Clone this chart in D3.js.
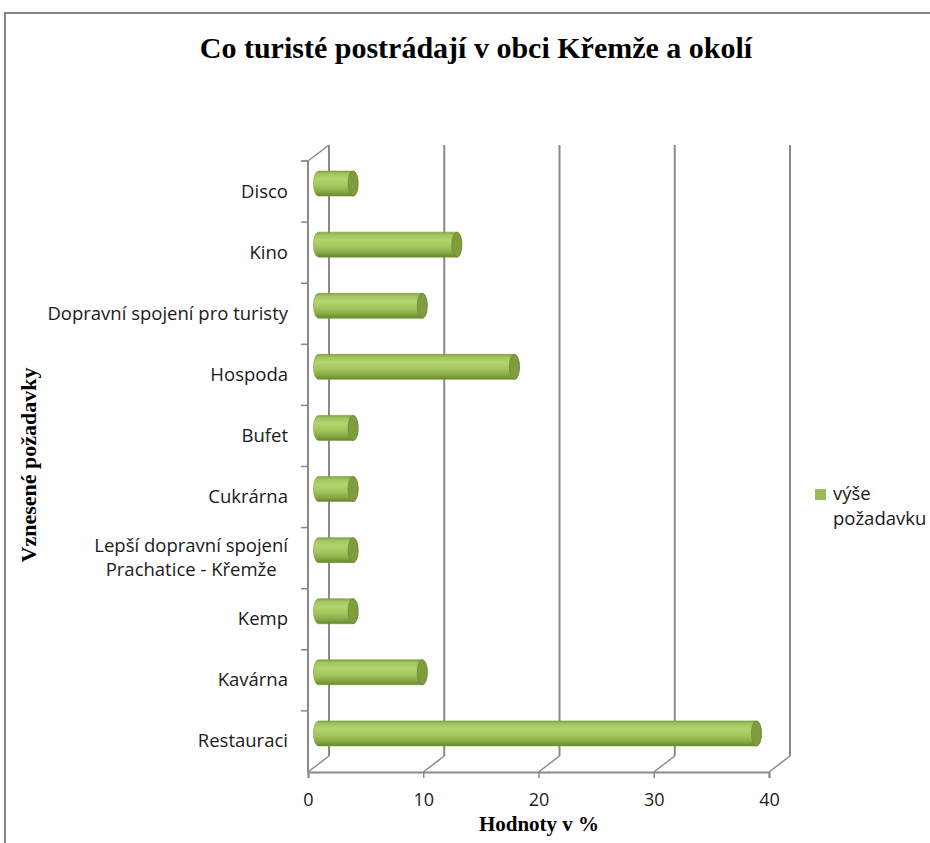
<!DOCTYPE html>
<html>
<head>
<meta charset="utf-8">
<script src="https://cdn.jsdelivr.net/npm/d3@7"></script>
<style>
  body { margin: 0; background: #fff; }
  svg { display: block; }
  .cat { font-family: "Open Sans", Lato, sans-serif; font-size: 18.5px; fill: #1a1a1a; }
  .tick text { font-family: "Open Sans", Lato, sans-serif; font-size: 18px; fill: #1a1a1a; }
  .ttl { font-family: "Liberation Serif", "Times New Roman", serif; font-weight: bold; fill: #000; }
</style>
</head>
<body>
<svg id="chart" width="930" height="843"></svg>
<script>
// data, Excel order (first category at the bottom)
const categories = [
    "Restauraci",
    "Kavárna",
    "Kemp",
    "Lepší dopravní spojení\nPrachatice - Křemže",
    "Cukrárna",
    "Bufet",
    "Hospoda",
    "Dopravní spojení pro turisty",
    "Kino",
    "Disco"
]
const values = [38, 9, 3, 3, 3, 3, 17, 9, 12, 3]
const xTicks = [0, 10, 20, 30, 40]
const seriesName = ["výše", "požadavku"]
const chartTitle = "Co turisté postrádají v obci Křemže a okolí"
const xTitle = "Hodnoty v %"
const yTitle = "Vznesené požadavky"

const depth = { dx: 21, dy: -16 }   // 3d offset of back wall
const gridColor = "#8a8a8a"

const svg = d3.select("#chart")

// chart area border
svg.append("rect")
    .attr("x", 5).attr("y", 13)
    .attr("width", 940).attr("height", 850)
    .attr("fill", "none")
    .attr("stroke", "#858585")
    .attr("stroke-width", 2)

const x = d3.scaleLinear().domain([0, 40]).range([308, 769])
const y = d3.scaleBand().domain(categories).range([772, 161])
const bw = y.bandwidth()
const y0 = 772, y1 = 161

// gradient for cylinders
const defs = svg.append("defs")
const grad = defs.append("linearGradient")
    .attr("id", "cyl").attr("x1", 0).attr("y1", 0).attr("x2", 0).attr("y2", 1)
const stops = [
    [0, "#86a646"], [0.12, "#a2c461"], [0.32, "#b3d56f"],
    [0.6, "#a2c55c"], [0.82, "#88aa45"], [1, "#67862f"]
]
stops.forEach(s => grad.append("stop").attr("offset", s[0]).attr("stop-color", s[1]))

// back wall gridlines + floor diagonals
const grid = svg.append("g")
grid.selectAll("line.back")
    .data(xTicks)
    .join("line")
    .attr("class", "back")
    .attr("x1", d => x(d) + depth.dx).attr("x2", d => x(d) + depth.dx)
    .attr("y1", y1 + depth.dy).attr("y2", y0 + depth.dy)
    .attr("stroke", gridColor).attr("stroke-width", 2)
grid.selectAll("line.floor")
    .data(xTicks)
    .join("line")
    .attr("class", "floor")
    .attr("x1", d => x(d)).attr("x2", d => x(d) + depth.dx)
    .attr("y1", y0).attr("y2", y0 + depth.dy)
    .attr("stroke", gridColor).attr("stroke-width", 1.5)

// left wall edge
grid.append("line")
    .attr("x1", x(0)).attr("x2", x(0))
    .attr("y1", y1).attr("y2", y0)
    .attr("stroke", gridColor).attr("stroke-width", 2)
grid.append("line")
    .attr("x1", x(0)).attr("x2", x(0) + depth.dx)
    .attr("y1", y1).attr("y2", y1 + depth.dy)
    .attr("stroke", gridColor).attr("stroke-width", 1.5)

// category ticks at band boundaries
const bounds = categories.map(c => y(c)).concat([y1])
grid.selectAll("line.ytick")
    .data(bounds)
    .join("line")
    .attr("class", "ytick")
    .attr("x1", x(0) - 7).attr("x2", x(0))
    .attr("y1", d => d).attr("y2", d => d)
    .attr("stroke", gridColor).attr("stroke-width", 1.5)

// x axis
const xAxis = svg.append("g")
    .attr("transform", `translate(0,${y0})`)
    .call(d3.axisBottom(x).tickValues(xTicks).tickSize(6).tickPadding(15).tickFormat(d3.format("d")))
xAxis.select(".domain").attr("stroke", gridColor).attr("stroke-width", 2)
xAxis.selectAll(".tick line").attr("stroke", gridColor).attr("stroke-width", 1.5)

// cylinders
const cylH = 25, rx = 5
const bars = svg.append("g")
    .selectAll("g")
    .data(categories.map((c, i) => ({ c, v: values[i] })))
    .join("g")
    .attr("transform", d => `translate(0,${y(d.c) + bw / 2 + depth.dy / 2})`)
const xs = x(0) + depth.dx / 2
const ry = cylH / 2
bars.append("path")
    .attr("d", d => {
        const xe = x(d.v) + depth.dx / 2
        return `M${xs},${-ry} L${xe},${-ry} A${rx},${ry} 0 0 1 ${xe},${ry} L${xs},${ry} A${rx},${ry} 0 0 1 ${xs},${-ry} Z`
    })
    .attr("fill", "url(#cyl)")
    .attr("stroke", "#7a9a3c")
    .attr("stroke-width", 0.6)
bars.append("ellipse")
    .attr("cx", d => x(d.v) + depth.dx / 2)
    .attr("cy", 0)
    .attr("rx", rx).attr("ry", ry)
    .attr("fill", "#7e9d3f")
    .attr("stroke", "#6b8a32")
    .attr("stroke-width", 0.8)

// category labels
const labels = svg.append("g")
    .selectAll("text")
    .data(categories)
    .join("text")
    .attr("class", "cat")
    .attr("y", d => y(d) + bw / 2)
labels.each(function (d) {
    const t = d3.select(this)
    const lines = d.split("\n")
    const lh = 24
    lines.forEach((ln, i) => {
        t.append("tspan")
            .attr("y", y(d) + bw / 2 + 6 + (i - (lines.length - 1) / 2) * lh)
            .text(ln)
    })
    const tsp = t.selectAll("tspan").nodes()
    const wmax = d3.max(tsp, n => n.getComputedTextLength())
    const cx = 288 - wmax / 2
    t.selectAll("tspan").attr("x", cx).attr("text-anchor", "middle")
})

// titles
svg.append("text")
    .attr("class", "ttl")
    .attr("x", 476).attr("y", 58)
    .attr("text-anchor", "middle")
    .attr("font-size", 30)
    .text(chartTitle)
svg.append("text")
    .attr("class", "ttl")
    .attr("x", 539).attr("y", 831)
    .attr("text-anchor", "middle")
    .attr("font-size", 21)
    .text(xTitle)
svg.append("text")
    .attr("class", "ttl")
    .attr("transform", "translate(36,465) rotate(-90)")
    .attr("text-anchor", "middle")
    .attr("font-size", 22)
    .text(yTitle)

// legend
const legend = svg.append("g").attr("transform", "translate(815,489)")
legend.append("rect")
    .attr("width", 11).attr("height", 11)
    .attr("fill", "#9bbb59")
legend.selectAll("text")
    .data(seriesName)
    .join("text")
    .attr("class", "cat")
    .attr("x", 18)
    .attr("y", (d, i) => 11 + i * 25)
    .text(d => d)
</script>
</body>
</html>
